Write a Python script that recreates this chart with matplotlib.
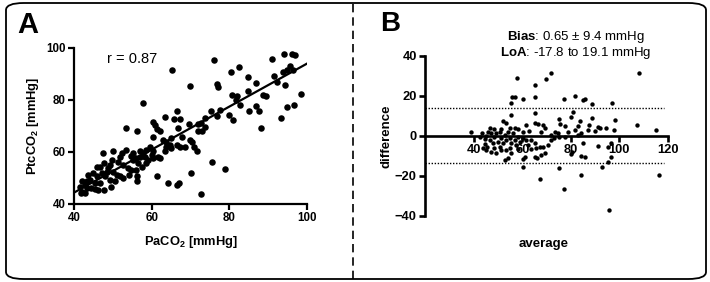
import matplotlib.pyplot as plt
import numpy as np
from matplotlib.patches import FancyBboxPatch
from matplotlib.lines import Line2D

plt.rcParams['font.family'] = ['Liberation Sans', 'DejaVu Sans']
plt.rcParams['mathtext.fontset'] = 'custom'
plt.rcParams['mathtext.rm'] = 'Liberation Sans'
plt.rcParams['mathtext.bf'] = 'Liberation Sans:bold'
plt.rcParams['mathtext.it'] = 'Liberation Sans:italic'

# panel A: PaCO2 vs PtcCO2
paco2 = [96.1, 96.9, 94.1, 91.1, 76.1, 65.3, 82.4, 80.5, 95.5, 93.9, 94.8, 96.4,
         91.4, 92.3, 69.8, 76.9, 77.1, 84.8, 86.9, 94.4, 98.5, 80.7, 82.0, 84.8,
         88.7, 89.4, 81.6, 82.7, 85.1, 86.8, 87.7, 94.8, 96.6, 79.9, 80.9, 88.1,
         93.2, 57.7, 66.6, 63.4, 65.8, 67.4, 75.4, 76.7, 77.6, 73.7, 72.7, 71.9,
         69.5, 66.9, 60.4, 60.9, 61.3, 62.2, 60.4, 53.5, 56.3, 73.7, 72.0, 72.9,
         69.8, 70.3, 67.7, 65.1, 63.8, 63.0, 64.7, 66.4, 67.3, 68.5, 71.0, 71.6,
         75.5, 79.0, 70.1, 64.1, 66.4, 67.1, 72.8, 61.3, 59.5, 58.6, 57.7, 56.9,
         56.0, 55.3, 56.6, 60.0, 60.4, 61.7, 62.2, 60.4, 58.6, 57.4, 56.0, 56.3,
         56.3, 54.0, 52.7, 51.8, 52.3, 53.5, 51.4, 50.1, 49.7, 49.3, 48.8, 48.4,
         47.5, 47.7, 46.7, 47.1, 48.0, 49.3, 50.1, 51.0, 51.8, 52.7, 50.6, 49.6,
         45.8, 45.8, 45.0, 44.1, 43.7, 43.3, 42.8, 42.0, 41.5, 42.0, 42.8, 43.3,
         44.5, 45.4, 46.2, 47.7, 46.7, 45.4, 41.8, 54.8, 54.2, 58.2, 59.1, 56.9,
         55.3, 54.8, 63.8, 65.1, 63.4]
ptcco2 = [97.7, 97.4, 97.7, 95.8, 95.4, 91.5, 92.7, 90.6, 93.2, 90.6, 91.4, 91.6,
          89.3, 87.1, 85.2, 86.3, 85.0, 88.7, 86.5, 85.6, 82.4, 81.8, 81.4, 83.3,
          82.0, 81.6, 80.1, 77.9, 75.8, 77.8, 75.8, 77.3, 78.0, 74.3, 72.4, 69.4,
          73.0, 78.7, 75.6, 73.4, 72.6, 72.8, 75.6, 73.7, 76.2, 73.0, 71.3, 70.8,
          70.7, 69.2, 71.7, 70.4, 68.8, 67.9, 65.9, 69.2, 67.9, 69.8, 67.9, 67.9,
          64.7, 64.0, 65.9, 65.3, 64.0, 64.7, 62.7, 62.7, 62.1, 62.1, 62.1, 60.2,
          56.3, 53.4, 51.8, 48.0, 47.4, 48.0, 43.8, 50.9, 62.1, 60.8, 59.5, 58.2,
          57.6, 57.0, 55.7, 58.9, 60.2, 58.2, 57.6, 57.6, 55.7, 54.4, 53.1, 50.6,
          48.7, 53.8, 55.0, 58.2, 59.5, 60.8, 56.3, 60.2, 56.9, 55.0, 53.8, 52.5,
          59.5, 55.7, 54.4, 51.8, 50.6, 49.3, 52.5, 51.2, 50.6, 49.9, 48.7, 46.7,
          54.4, 50.6, 51.8, 49.3, 51.2, 48.7, 47.4, 48.7, 46.7, 44.8, 44.4, 46.1,
          46.1, 45.7, 45.4, 45.4, 47.9, 48.2, 44.1, 53.1, 51.2, 58.2, 56.9, 60.2,
          59.5, 58.5, 62.1, 61.4, 60.5]
fit_slope = 0.827
fit_intercept = 11.3

# panel B: Bland-Altman
average = [72.0, 69.9, 57.8, 108.2, 65.4, 65.2, 55.9, 56.9, 60.2, 55.4, 77.3, 81.8,
           85.1, 85.8, 88.8, 97.1, 55.5, 65.1, 80.8, 80.1, 75.2, 83.9, 88.6, 98.2,
           52.1, 53.5, 61.6, 65.1, 66.4, 68.5, 69.2, 75.4, 77.8, 83.0, 87.5, 91.1,
           92.0, 94.5, 97.6, 107.3, 115.2, 89.8, 87.1, 81.6, 78.8, 74.7, 73.3, 72.0,
           67.8, 63.0, 60.3, 58.2, 39.0, 42.5, 43.6, 44.5, 45.2, 45.9, 46.6, 47.3,
           48.0, 48.6, 49.3, 50.0, 50.7, 51.4, 52.1, 52.8, 53.5, 54.1, 54.8, 55.5,
           56.2, 56.9, 57.6, 58.2, 58.9, 43.8, 45.2, 47.3, 49.3, 51.4, 53.5, 54.8,
           55.5, 45.6, 48.4, 50.7, 44.5, 46.6, 48.6, 51.4, 54.8, 56.9, 60.3, 61.7,
           62.4, 63.7, 65.1, 65.8, 67.2, 68.5, 69.2, 67.8, 65.1, 66.2, 60.3, 58.2,
           54.1, 52.8, 61.2, 63.5, 70.6, 60.3, 67.2, 75.1, 77.2, 84.3, 85.0, 84.0,
           86.0, 80.1, 80.4, 91.2, 95.3, 96.7, 96.4, 95.3, 92.9, 95.6, 116.1, 75.1,
           73.0, 71.7, 77.6, 83.1, 84.4]
difference = [31.5, 28.4, 29.2, 31.4, 25.7, 19.3, 19.6, 19.3, 18.3, 16.6, 18.6, 20.1,
              17.9, 18.4, 16.1, 16.6, 10.5, 11.6, 12.1, 9.6, 8.5, 7.5, 8.8, 8.0,
              7.6, 6.3, 5.5, 6.6, 6.0, 5.5, 3.8, 6.0, 5.0, 5.0, 5.5, 4.6,
              3.8, 3.8, 3.0, 5.5, 3.0, 2.5, 3.0, 3.0, 2.2, 1.3, 2.2, 0.5,
              2.2, 2.7, 2.2, 3.3, 2.2, -0.3, 1.3, -1.7, 0.0, 2.2, -2.0, 1.7,
              -3.7, -0.3, 1.3, -2.8, 2.2, -1.2, -3.7, 0.5, -2.0, 2.2, -1.2, -3.7,
              1.3, -2.0, -4.5, -0.3, -2.8, -6.1, -7.0, -7.8, -8.6, -7.0, -7.0, -6.1,
              -8.6, -5.3, -6.1, -5.3, -4.0, 3.8, 3.3, 3.3, 3.8, 3.8, -1.2, -2.0,
              -4.5, -2.0, -3.7, -6.1, -5.3, -5.3, -8.6, -9.5, -10.3, -11.1, -11.6, -6.6,
              -10.8, -12.0, -10.3, -6.6, -4.5, -15.3, -21.4, -15.8, -26.6, -19.4, -3.7, -10.0,
              -10.3, -9.1, -7.8, -4.8, -5.3, -3.7, -10.3, -12.8, -15.3, -37.2, -19.4, -0.3,
              -1.2, -2.0, -0.3, 0.5, 1.7]
loa_upper = 13.9
loa_lower = -13.7

fig = plt.figure(figsize=(7.1, 2.82), dpi=100)

# outer rounded frame and dashed divider
frame = FancyBboxPatch((6/710, 3/282), 700/710, 276/282,
                       boxstyle="round,pad=0,rounding_size=0.025",
                       transform=fig.transFigure, fill=False, lw=1.3, ec='black')
fig.patches.append(frame)
fig.lines.append(Line2D([353/710, 353/710], [3/282, 279/282], transform=fig.transFigure,
                        color='black', lw=1.2, ls=(0, (5, 3))))

# ---- panel A
ax1 = fig.add_axes([74/710, 78/282, 233/710, 156/282])
ax1.scatter(paco2, ptcco2, s=22, color='black', lw=0, zorder=3)
xs = np.array([40, 100])
ax1.plot(xs, fit_slope*xs + fit_intercept, color='black', lw=1.6, zorder=2)
ax1.set_xlim(40, 100)
ax1.set_ylim(40, 100)
ax1.set_xticks([40, 60, 80, 100])
ax1.set_yticks([40, 60, 80, 100])
for s in ['top', 'right']:
    ax1.spines[s].set_visible(False)
for s in ['left', 'bottom']:
    ax1.spines[s].set_linewidth(1.6)
ax1.tick_params(width=1.6, length=4, pad=2)
for lab in ax1.get_xticklabels() + ax1.get_yticklabels():
    lab.set_fontsize(8.3)
    lab.set_fontweight('bold')
ax1.set_xlabel(r'PaCO$_\mathbf{2}$ [mmHg]', fontsize=9.3, fontweight='bold', labelpad=7)
ax1.set_ylabel(r'PtcCO$_\mathbf{2}$ [mmHg]', fontsize=9.3, fontweight='bold', labelpad=4)
ax1.text(0.14, 0.93, 'r = 0.87', transform=ax1.transAxes, fontsize=10.5, va='center')
fig.text(17/710, 1 - 25/282, 'A', fontsize=21, fontweight='bold', va='center')

# ---- panel B
ax2 = fig.add_axes([425/710, 66/282, 243/710, 160/282])
ax2.scatter(average, difference, s=10, color='black', lw=0, zorder=3)
ax2.axhline(loa_upper, color='black', lw=1, ls=(0, (1, 1.2)), xmax=0.985)
ax2.axhline(loa_lower, color='black', lw=1, ls=(0, (1, 1.2)), xmax=0.985)
ax2.set_xlim(20, 120)
ax2.set_ylim(-40, 40)
ax2.set_xticks([40, 60, 80, 100, 120])
ax2.set_yticks([-40, -20, 0, 20, 40])
ax2.spines['top'].set_visible(False)
ax2.spines['right'].set_visible(False)
ax2.spines['bottom'].set_position(('data', 0))
for s in ['left', 'bottom']:
    ax2.spines[s].set_linewidth(1.9)
ax2.tick_params(width=1.9, length=4, pad=2)
for lab in ax2.get_xticklabels() + ax2.get_yticklabels():
    lab.set_fontsize(9.3)
    lab.set_fontweight('bold')
ax2.set_xlabel('average', fontsize=9.5, fontweight='bold')
ax2.xaxis.set_label_coords(0.49, -0.14)
ax2.set_ylabel('difference', fontsize=9.5, fontweight='bold', labelpad=2)
ax2.text(0.62, 1.12, r'$\mathbf{Bias}$: 0.65 ± 9.4 mmHg', transform=ax2.transAxes,
         fontsize=9.5, ha='center', va='center')
ax2.text(0.62, 1.02, r'$\mathbf{LoA}$: -17.8 to 19.1 mmHg', transform=ax2.transAxes,
         fontsize=9.5, ha='center', va='center')
fig.text(380/710, 1 - 24/282, 'B', fontsize=20, fontweight='bold', va='center')

fig.savefig('out.png', dpi=100)
